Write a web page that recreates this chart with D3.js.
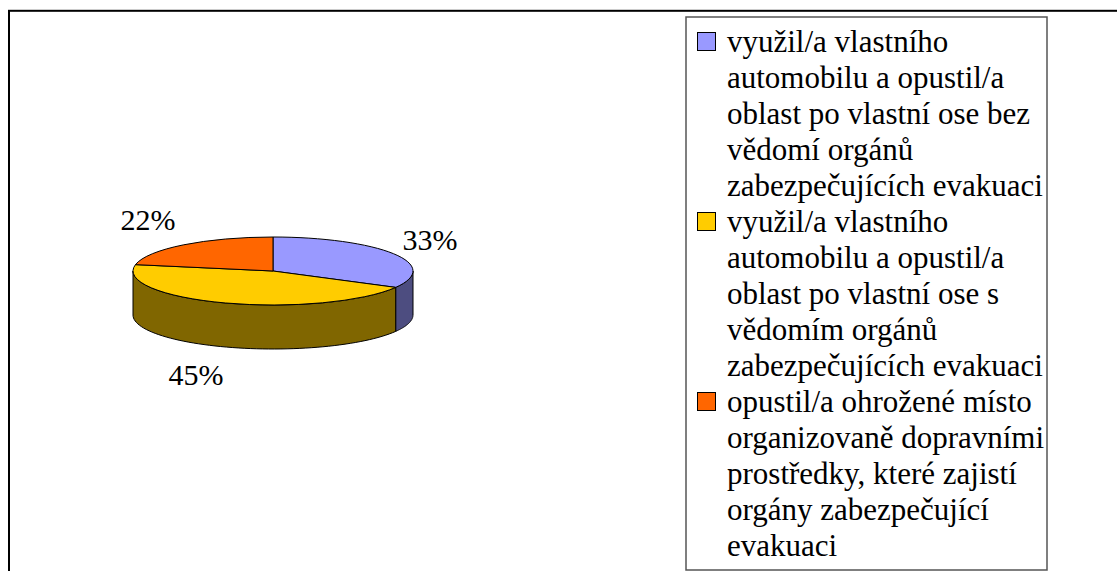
<!DOCTYPE html>
<html>
<head>
<meta charset="utf-8">
<script src="https://cdn.jsdelivr.net/npm/d3@7"></script>
<style>
  body { margin: 0; background: #fff; }
  svg { display: block; }
</style>
</head>
<body>
<svg id="pie-chart"></svg>
<script>
// data
var categories = [
    "využil/a vlastního automobilu a opustil/a oblast po vlastní ose bez vědomí orgánů zabezpečujících evakuaci",
    "využil/a vlastního automobilu a opustil/a oblast po vlastní ose s vědomím orgánů zabezpečujících evakuaci",
    "opustil/a ohrožené místo organizovaně dopravními prostředky, které zajistí orgány zabezpečující evakuaci"
];
// legend text broken into the lines shown in the picture
var legendLines = [
    ["využil/a vlastního", "automobilu a opustil/a", "oblast po vlastní ose bez", "vědomí orgánů", "zabezpečujících evakuaci"],
    ["využil/a vlastního", "automobilu a opustil/a", "oblast po vlastní ose s", "vědomím orgánů", "zabezpečujících evakuaci"],
    ["opustil/a ohrožené místo", "organizovaně dopravními", "prostředky, které zajistí", "orgány zabezpečující", "evakuaci"]
];
var values = [33, 45, 22];
var labels = ["33%", "45%", "22%"];

var topColors = ["#9999FF", "#FFCC00", "#FF6600"];
var sideColors = ["#4D4D80", "#806600", "#803300"];
var font = "'Liberation Serif'";

var width = 1117, height = 571;
var svg = d3.select("#pie-chart").attr("width", width).attr("height", height);

// outer chart border (cut off at right and bottom)
svg.append("rect")
    .attr("x", 9).attr("y", 10.8)
    .attr("width", 1300).attr("height", 800)
    .attr("fill", "none")
    .attr("stroke", "#000")
    .attr("stroke-width", 2);

// pie geometry
var cx = 273, cy = 271, rx = 140, ry = 34, depth = 44;

var pie = d3.pie().sort(null).value(function(d) { return d; });
var arcs = pie(values);

function px(a) { return cx + rx * Math.sin(a); }
function py(a) { return cy - ry * Math.cos(a); }

// side walls (only front half, angles between 90 and 270 degrees)
var line = d3.line();
arcs.forEach(function(d, i) {
    var a0 = Math.max(d.startAngle, Math.PI / 2);
    var a1 = Math.min(d.endAngle, 3 * Math.PI / 2);
    if (a1 <= a0) return;
    var steps = d3.range(0, 61).map(function(k) { return a0 + (a1 - a0) * k / 60; });
    var pts = steps.map(function(a) { return [px(a), py(a)]; })
        .concat(steps.slice().reverse().map(function(a) { return [px(a), py(a) + depth]; }));
    svg.append("path")
        .attr("d", line(pts) + "Z")
        .attr("fill", sideColors[i])
        .attr("stroke", "#000")
        .attr("stroke-width", 1)
        .attr("stroke-linejoin", "round");
});

// top faces
var arc = d3.arc().innerRadius(0).outerRadius(rx);
svg.append("g")
    .attr("transform", "translate(" + cx + "," + cy + ") scale(1," + (ry / rx) + ")")
    .selectAll("path")
    .data(arcs)
    .enter().append("path")
    .attr("d", arc)
    .attr("fill", function(d, i) { return topColors[i]; })
    .attr("stroke", "#000")
    .attr("stroke-width", 1)
    .attr("vector-effect", "non-scaling-stroke");

// percentage labels
var labelPos = [[430, 250], [196, 385], [148, 230]];
svg.selectAll("text.pct")
    .data(labels)
    .enter().append("text")
    .attr("class", "pct")
    .attr("x", function(d, i) { return labelPos[i][0]; })
    .attr("y", function(d, i) { return labelPos[i][1]; })
    .attr("text-anchor", "middle")
    .style("font-family", font)
    .attr("font-size", 30)
    .text(function(d) { return d; });

// legend
var legendX = 686, legendY = 17, legendW = 361, legendH = 553;
var lineH = 36, firstBase = 52;
svg.append("rect")
    .attr("x", legendX).attr("y", legendY)
    .attr("width", legendW).attr("height", legendH)
    .attr("fill", "#fff")
    .attr("stroke", "#555")
    .attr("stroke-width", 1.5);

var lineIndex = 0;
legendLines.forEach(function(lines, i) {
    var base = firstBase + lineIndex * lineH;
    svg.append("rect")
        .attr("x", 697.5).attr("y", base - 19.5)
        .attr("width", 18).attr("height", 18)
        .attr("fill", topColors[i])
        .attr("stroke", "#000")
        .attr("stroke-width", 1);
    var t = svg.append("text")
        .style("font-family", font)
        .attr("font-size", 31)
        .attr("fill", "#000");
    lines.forEach(function(l, k) {
        t.append("tspan")
            .attr("x", 727)
            .attr("y", base + k * lineH)
            .text(l);
    });
    lineIndex += lines.length;
});
</script>
</body>
</html>
